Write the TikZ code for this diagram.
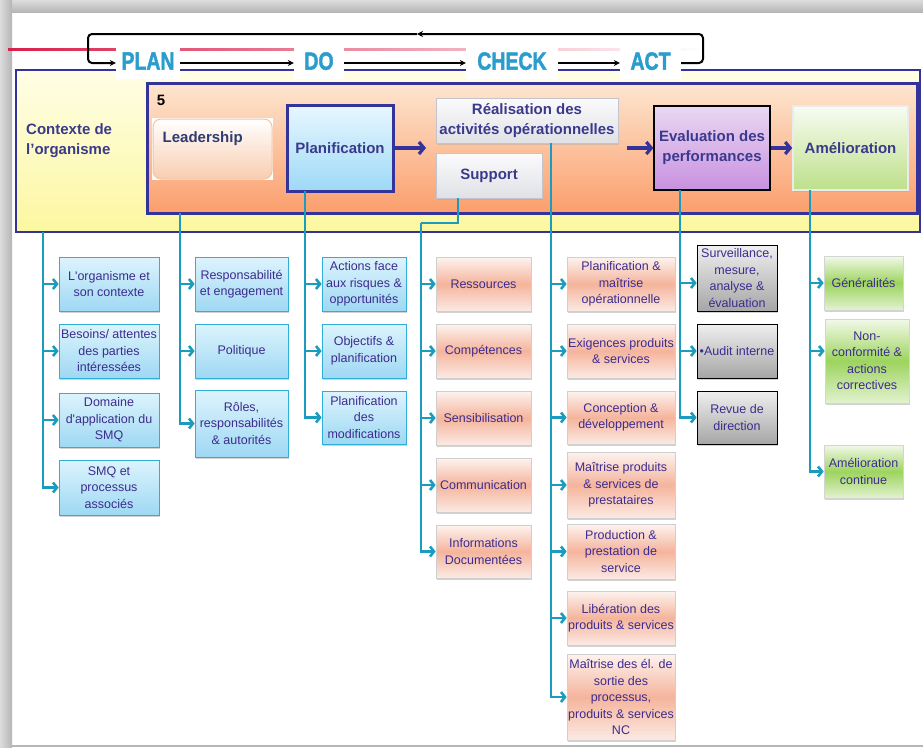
\documentclass[tikz,border=0pt]{standalone}
\usepackage{fontspec}
\setmainfont{Liberation Sans}
\newfontfamily\pdcaface{Liberation Sans Bold}[FakeBold=2]
\usepackage{graphicx}
\usetikzlibrary{arrows.meta,shadows}

\definecolor{navy}{HTML}{333399}
\definecolor{conncol}{HTML}{1B9BBE}
\definecolor{maintxt}{HTML}{3A3A8C}
\definecolor{subtxt}{HTML}{3D2C8E}
\definecolor{leadtxt}{HTML}{2E3C70}
\definecolor{pdcacol}{HTML}{2A9DCC}
\definecolor{frameA}{HTML}{DCDCDC}
\definecolor{frameB}{HTML}{B6B6B6}
\definecolor{redline}{HTML}{D8204A}
\definecolor{yeltop}{HTML}{FFFEE6}
\definecolor{yelbot}{HTML}{FCF7A0}
\definecolor{ortop}{HTML}{FDE6D0}
\definecolor{orbot}{HTML}{FB9E6C}
\definecolor{bluetop}{HTML}{DDF4FD}
\definecolor{bluebot}{HTML}{9ED8F3}
\definecolor{bluebd}{HTML}{2FAFD8}
\definecolor{saltop}{HTML}{FDF3EF}
\definecolor{salmid}{HTML}{F5B49C}
\definecolor{salbot}{HTML}{FBEAE3}
\definecolor{salbd}{HTML}{CFCFCF}
\definecolor{graytop}{HTML}{EFEFEF}
\definecolor{graybot}{HTML}{A6A6A6}
\definecolor{greentop}{HTML}{F2F9EA}
\definecolor{greenmid}{HTML}{9DD45E}
\definecolor{greenbot}{HTML}{E2F2CF}
\definecolor{greenbd}{HTML}{D4D4D4}
\definecolor{plantop}{HTML}{E8F7FF}
\definecolor{planbot}{HTML}{9DD9F7}
\definecolor{realtop}{HTML}{FBFBFC}
\definecolor{realbot}{HTML}{E0E1E6}
\definecolor{realbd}{HTML}{C4C4CC}
\definecolor{evaltop}{HTML}{EAD8F2}
\definecolor{evalbot}{HTML}{C890E0}
\definecolor{ameltop}{HTML}{F8FCF2}
\definecolor{amelbot}{HTML}{BDE08A}
\definecolor{leadbot}{HTML}{F8CDB0}
\definecolor{leadbd}{HTML}{F5C3A0}

\newcommand\subfnt{\fontsize{12.5}{16.5}\selectfont}
\newcommand\mainfnt{\fontsize{15}{20}\selectfont\bfseries}
\newcommand\pdcafnt{\fontsize{25}{25}\pdcaface}

\tikzset{
  sub/.style={draw, line width=0.7pt, inner sep=1pt, align=center, font=\subfnt, text=subtxt,
    drop shadow={shadow xshift=1.2pt, shadow yshift=-1.5pt, fill=black!35, opacity=0.5}},
  bluebox/.style={sub, draw=bluebd, top color=bluetop, bottom color=bluebot},
  salbox/.style={sub, draw=salbd, top color=saltop, bottom color=salbot, middle color=salmid},
  graybox/.style={sub, draw=black, top color=graytop, bottom color=graybot},
  greenbox/.style={sub, draw=greenbd, top color=greentop, bottom color=greenbot, middle color=greenmid},
  mainbox/.style={inner sep=1pt, align=center, font=\mainfnt, text=maintxt},
  conn/.style={draw=conncol, line width=2.6pt, -{Straight Barb[length=4pt,width=10pt]}},
  navyarrow/.style={draw=navy, line width=3.2pt, -{Straight Barb[length=5pt,width=12pt]}},
  pdcaline/.style={draw=black, line width=2pt, rounded corners=4pt},
  pdcatip/.style={-{Stealth[length=6pt,width=6pt]}},
  pdcalab/.style={fill=white, inner sep=0pt, minimum height=32, text depth=4pt, text=pdcacol, font=\pdcafnt},
}

\begin{document}
\begin{tikzpicture}[x=1pt,y=-1pt]
\useasboundingbox (0,0) rectangle (923,747);
\fill[white] (0,0) rectangle (923,747);
% frame
\shade[top color=frameA, bottom color=frameB] (0,0) rectangle (923,12);
\shade[left color=frameA, right color=frameB] (0,0) rectangle (12,747);
\fill[frameB] (12,745) rectangle (923,747);

% red fading line
\shade[left color=redline, right color=white] (8,48) rectangle (706,50.5);

% containers
\draw[navy, line width=2.5pt, top color=yeltop, bottom color=yelbot] (16,70) rectangle (920,232);
\draw[navy, line width=3pt, top color=ortop, bottom color=orbot] (147,83) rectangle (917,213);

% PDCA labels
\node[pdcalab, minimum width=64] (pPlan) at (148,63) {\scalebox{0.78}[1]{PLAN}};
\node[pdcalab, minimum width=50] (pDo) at (319,63) {\scalebox{0.78}[1]{DO}};
\node[pdcalab, minimum width=92] (pCheck) at (512,63) {\scalebox{0.78}[1]{CHECK}};
\node[pdcalab, minimum width=61] (pAct) at (650.5,63) {\scalebox{0.78}[1]{ACT}};

\draw[pdcaline, pdcatip] (pPlan.east) -- (pDo.west);
\draw[pdcaline, pdcatip] (pDo.east) -- (pCheck.west);
\draw[pdcaline, pdcatip] (pCheck.east) -- (pAct.west);
\coordinate (loopR) at (703,34);
\coordinate (loopM) at (417,34);
\coordinate (loopL) at (88,34);
\draw[pdcaline, pdcatip] (pAct.east) -| (loopR) -- (loopM);
\draw[pdcaline, pdcatip] (loopM) -- (loopL) |- (pPlan.west);

% labels in containers
\node[font=\fontsize{15}{15}\selectfont\bfseries] (five) at (161,100) {5};
\node[mainbox, anchor=west, align=left] (ctx) at (25,141) {Contexte de\\l’organisme};

% main boxes
\node[fill=white, inner sep=0pt, minimum width=121, minimum height=62] (mLeadBg) at (212.5,149) {};
\node[draw=leadbd, line width=1pt, rounded corners=8pt, top color=white, bottom color=leadbot,
      inner sep=0pt, minimum width=119, minimum height=60,
      label={[anchor=north west, inner sep=0pt, xshift=10pt, yshift=-13pt, font=\fontsize{15}{15}\selectfont\bfseries, text=leadtxt]north west:Leadership}]
      (mLead) at (212.5,149) {};
\node[mainbox, draw=navy, line width=3pt, top color=plantop, bottom color=planbot,
      minimum width=106, minimum height=86] (mPlan) at (340,148) {Planification};
\node[mainbox, draw=realbd, line width=0.8pt, top color=realtop, bottom color=realbot,
      minimum width=182, minimum height=45,
      drop shadow={shadow xshift=1.2pt, shadow yshift=-1.5pt, fill=black!35, opacity=0.4}] (mReal) at (527,120.5) {Réalisation des\\activités opérationnelles};
\node[mainbox, draw=realbd, line width=0.8pt, top color=realtop, bottom color=realbot,
      minimum width=106, minimum height=45,
      drop shadow={shadow xshift=1.2pt, shadow yshift=-1.5pt, fill=black!35, opacity=0.4}] (mSupp) at (489,175.5) {Support};
\node[mainbox, draw=black, line width=1.2pt, top color=evaltop, bottom color=evalbot,
      minimum width=116, minimum height=84] (mEval) at (712,148) {Evaluation des\\performances};
\node[mainbox, draw=white!92!black, line width=1.5pt, top color=ameltop, bottom color=amelbot,
      minimum width=115, minimum height=84,
      drop shadow={shadow xshift=1.2pt, shadow yshift=-1.5pt, fill=black!35, opacity=0.4}] (mAmel) at (850.5,148) {Amélioration};

\coordinate (gapIn) at (426,148);
\coordinate (gapOut) at (627,148);
\draw[navyarrow] (mPlan.east) -- (gapIn);
\draw[navyarrow] (gapOut) -- (mEval.west);
\draw[navyarrow] (mEval.east) -- (mAmel.west);

% sub boxes: column 1
\node[bluebox, minimum width=100, minimum height=54] (c1a) at (109,284) {L\textquotesingle organisme et\\son contexte};
\node[bluebox, minimum width=100, minimum height=54] (c1b) at (109,351) {Besoins/ attentes\\des parties\\intéressées};
\node[bluebox, minimum width=100, minimum height=54] (c1c) at (109,420) {Domaine\\d\textquotesingle application du\\SMQ};
\node[bluebox, minimum width=100, minimum height=55] (c1d) at (109,487.5) {SMQ et\\processus\\associés};
% column 2
\node[bluebox, minimum width=93, minimum height=54] (c2a) at (241.5,284) {Responsabilité\\et engagement};
\node[bluebox, minimum width=93, minimum height=54] (c2b) at (241.5,351) {Politique};
\node[bluebox, minimum width=93, minimum height=67] (c2c) at (241.5,423.5) {Rôles,\\responsabilités\\\& autorités};
% column 3
\node[bluebox, minimum width=84, minimum height=54] (c3a) at (364,284) {Actions face\\aux risques \&\\opportunités};
\node[bluebox, minimum width=84, minimum height=54] (c3b) at (364,351) {Objectifs \&\\planification};
\node[bluebox, minimum width=84, minimum height=53] (c3c) at (364,417.5) {Planification\\des\\modifications};
% column 4
\node[salbox, minimum width=95, minimum height=54] (c4a) at (483.5,284) {Ressources};
\node[salbox, minimum width=95, minimum height=54] (c4b) at (483.5,351) {Compétences};
\node[salbox, minimum width=95, minimum height=54] (c4c) at (483.5,418) {Sensibilisation};
\node[salbox, minimum width=95, minimum height=54] (c4d) at (483.5,485) {Communication};
\node[salbox, minimum width=95, minimum height=53] (c4e) at (483.5,551.5) {Informations\\Documentées};
% column 5
\node[salbox, minimum width=108, minimum height=54] (c5a) at (621,284) {Planification \&\\maîtrise\\opérationnelle};
\node[salbox, minimum width=108, minimum height=54] (c5b) at (621,351) {Exigences produits\\\& services};
\node[salbox, minimum width=108, minimum height=53] (c5c) at (621,417.5) {Conception \&\\développement};
\node[salbox, minimum width=108, minimum height=66] (c5d) at (621,485) {Maîtrise produits\\\& services de\\prestataires};
\node[salbox, minimum width=108, minimum height=55] (c5e) at (621,551.5) {Production \&\\prestation de\\service};
\node[salbox, minimum width=108, minimum height=54] (c5f) at (621,618) {Libération des\\produits \& services};
\node[salbox, minimum width=108, minimum height=86] (c5g) at (621,697) {Maîtrise des él. de\\sortie des\\processus,\\produits \& services\\NC};
% column 6
\node[graybox, minimum width=80, minimum height=66] (c6a) at (737,278) {Surveillance,\\mesure,\\analyse \&\\évaluation};
\node[graybox, minimum width=80, minimum height=54] (c6b) at (737,351) {•Audit interne};
\node[graybox, minimum width=80, minimum height=53] (c6c) at (737,417.5) {Revue de\\direction};
% column 7
\node[greenbox, minimum width=79, minimum height=54] (c7a) at (863.5,283) {Généralités};
\node[greenbox, minimum width=84, minimum height=84] (c7b) at (867,361) {Non-\\conformité \&\\actions\\correctives};
\node[greenbox, minimum width=79, minimum height=53] (c7c) at (863.5,471.5) {Amélioration\\continue};

% trunks
\coordinate (t1) at (43,232);
\coordinate (t2) at (180,213);
\coordinate (t3) at (305,191);
\coordinate (s0) at (458,198);
\coordinate (s1) at (421,223);
\coordinate (t5) at (551,143);
\coordinate (t6) at (680,190);
\coordinate (t7) at (810,190);

\foreach \c in {c1a,c1b,c1c,c1d} \draw[conn] (t1) |- (\c.west);
\foreach \c in {c2a,c2b,c2c} \draw[conn] (t2) |- (\c.west);
\foreach \c in {c3a,c3b,c3c} \draw[conn] (t3) |- (\c.west);
\draw[draw=conncol, line width=2.6pt] (s0) |- (s1);
\foreach \c in {c4a,c4b,c4c,c4d,c4e} \draw[conn] (s1) |- (\c.west);
\foreach \c in {c5a,c5b,c5c,c5d,c5e,c5f,c5g} \draw[conn] (t5) |- (\c.west);
\draw[conn] (t6) |- ([yshift=-5pt]c6a.west);
\foreach \c in {c6b,c6c} \draw[conn] (t6) |- (\c.west);
\draw[conn] (t7) |- (c7a.west);
\draw[conn] (t7) |- ([yshift=10pt]c7b.west);
\draw[conn] (t7) |- (c7c.west);
\end{tikzpicture}
\end{document}
